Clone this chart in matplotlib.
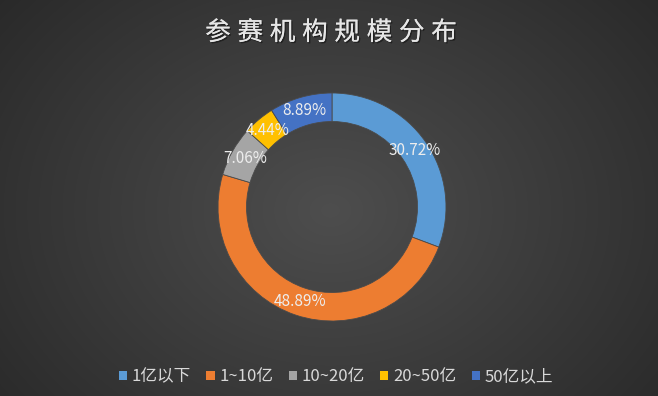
import matplotlib

matplotlib.use("Agg")
import matplotlib.pyplot as plt
import matplotlib.patheffects as pe
import numpy as np

plt.rcParams["font.family"] = ["Noto Sans CJK SC", "DejaVu Sans"]

TITLE = "参赛机构规模分布"
CATEGORIES = ["1亿以下", "1~10亿", "10~20亿", "20~50亿", "50亿以上"]
SHARES = [30.72, 48.89, 7.06, 4.44, 8.89]
COLORS = ["#5B9BD5", "#ED7D31", "#A5A5A5", "#FFC000", "#4472C4"]

W, H = 658, 396
fig = plt.figure(figsize=(W / 100, H / 100), dpi=100)

# ---- radial gradient background ------------------------------------------
bg = fig.add_axes([0, 0, 1, 1])
yy, xx = np.mgrid[0:H, 0:W]
d = np.sqrt(((xx - 330) / 420) ** 2 + ((yy - 210) / 330) ** 2)
g = np.clip(0.305 - 0.14 * d, 0.16, 0.31)
bg.imshow(np.dstack([g, g, g]), aspect="auto", extent=(0, W, H, 0))
bg.set_xlim(0, W); bg.set_ylim(H, 0); bg.axis("off")

# ---- title (wide letter spacing, one glyph at a time) -----------------------
for i, ch in enumerate(TITLE):
    fig.text((218 + i * 32.3) / W, 1 - 33 / H, ch, ha="center", va="center",
             fontsize=18.5, color="#E6E6E6",
             path_effects=[pe.withSimplePatchShadow(offset=(1, -1), shadow_rgbFace="#111111", alpha=0.6),
                           pe.Normal()])

# ---- donut -----------------------------------------------------------------
cx, cy, r = 332, 207, 114
ax = fig.add_axes([(cx - r) / W, (H - cy - r) / H, 2 * r / W, 2 * r / H])
wedges, _, autotexts = ax.pie(
    SHARES, colors=COLORS, startangle=90, counterclock=False, radius=1.0,
    autopct="%.2f%%", pctdistance=0.877,
    wedgeprops=dict(width=0.25, linewidth=0.6, edgecolor="#4a4a4a"),
    textprops=dict(color="#EDEDED", fontsize=11),
)
for t, v in zip(autotexts, SHARES):
    t.set_text(f"{v:.2f}%")
ax.set_xlim(-1, 1); ax.set_ylim(-1, 1)
ax.set_aspect("equal", adjustable="box")
ax.axis("off")

# ---- legend ----------------------------------------------------------------
leg = fig.legend(wedges, CATEGORIES, loc="center", bbox_to_anchor=(336 / W, 1 - 377 / H),
                 ncol=5, frameon=False, fontsize=12, labelcolor="#D9D9D9",
                 handlelength=0.5, handleheight=0.5, handletextpad=0.3,
                 columnspacing=0.9)
for h in leg.legend_handles:
    h.set_linewidth(0)

fig.savefig("out.png", dpi=100)
